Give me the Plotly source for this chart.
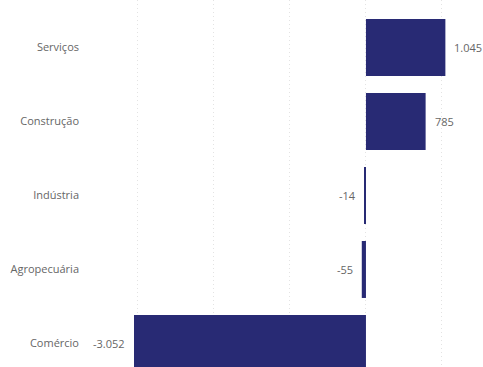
import plotly.graph_objects as go

categories = ["Serviços", "Construção", "Indústria", "Agropecuária", "Comércio"]
values = [1045, 785, -14, -55, -3052]

bar_color = "#282A74"
text_color = "#666666"

fig = go.Figure(go.Bar(
    x=values,
    y=categories,
    orientation="h",
    marker=dict(color=bar_color, line=dict(width=0)),
    width=0.77,
    cliponaxis=False,
    hoverinfo="skip",
))

def fmt(v):
    return f"{v:,}".replace(",", ".")

for cat, v in zip(categories, values):
    fig.add_annotation(
        x=v, y=cat, xref="x", yref="y",
        text=fmt(v),
        showarrow=False,
        xanchor="left" if v >= 0 else "right",
        xshift=7 if v >= 0 else -7,
        font=dict(family="Open Sans", size=11, color=text_color),
    )

fig.update_layout(
    width=483,
    height=367,
    margin=dict(l=134, r=0, t=0, b=0),
    paper_bgcolor="white",
    plot_bgcolor="white",
    separators=",.",
    showlegend=False,
    xaxis=dict(
        range=[-3052, 1540],
        dtick=1000,
        tick0=0,
        showgrid=True,
        gridcolor="#E3E3E3",
        griddash="1px,3px",
        gridwidth=1,
        zeroline=False,
        showticklabels=False,
        showline=False,
    ),
    yaxis=dict(
        categoryorder="array",
        categoryarray=categories,
        range=[4.318, -0.642],
        showgrid=False,
        zeroline=False,
        showline=False,
        ticks="",
        ticklabelstandoff=54,
        tickfont=dict(family="Open Sans", size=11, color=text_color),
    ),
)

fig.write_html("out.html")
